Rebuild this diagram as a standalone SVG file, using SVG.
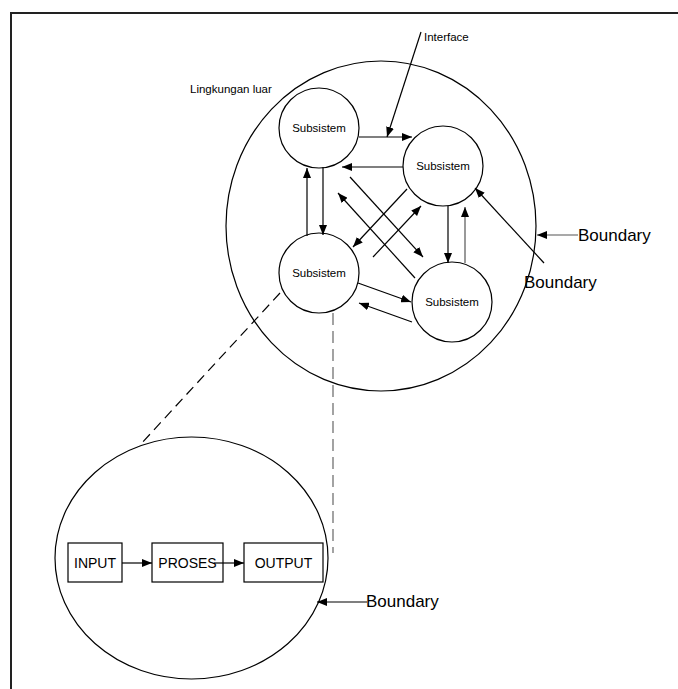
<svg xmlns="http://www.w3.org/2000/svg" width="678" height="689" viewBox="0 0 678 689">
<style>
text{font-family:"Liberation Sans",Arial,sans-serif;fill:#000}
.s{font-size:11.5px}
.b{font-size:17px}
.box{font-size:14px}
.node{fill:#fff;stroke:#000;stroke-width:1.2}
.c{stroke:#000;stroke-width:1.2;fill:none;marker-end:url(#ah)}
.g{stroke:#555}
.dash{stroke:#000;stroke-width:1.2;stroke-dasharray:10 6;fill:none}
</style>
<defs>
<marker id="ah" markerUnits="userSpaceOnUse" markerWidth="11" markerHeight="8" refX="10" refY="4" orient="auto">
<path d="M0,0 L10,4 L0,8 z" fill="#000"/>
</marker>
</defs>
<rect width="678" height="689" fill="#fff"/>
<path d="M11,689 V13 H678" fill="none" stroke="#222" stroke-width="2"/>
<g id="lingkungan">
<ellipse cx="381" cy="226" rx="155" ry="165" class="node" fill="none"/>
<text class="s" x="190" y="93">Lingkungan luar</text>
</g>
<g id="sub1"><circle cx="319" cy="128" r="40" class="node"/><text class="s" x="319" y="132" text-anchor="middle">Subsistem</text></g>
<g id="sub2"><circle cx="443" cy="166" r="40" class="node"/><text class="s" x="443" y="170" text-anchor="middle">Subsistem</text></g>
<g id="sub3"><circle cx="319" cy="273" r="40" class="node"/><text class="s" x="319" y="277" text-anchor="middle">Subsistem</text></g>
<g id="sub4"><circle cx="452" cy="302" r="40" class="node"/><text class="s" x="452" y="306" text-anchor="middle">Subsistem</text></g>
<g id="detail"><ellipse cx="191.5" cy="558" rx="136.5" ry="121" class="node" fill="none"/></g>
<g id="input"><rect x="68" y="543" width="54" height="39" class="node"/><text class="box" x="95" y="568" text-anchor="middle">INPUT</text></g>
<g id="proses"><rect x="152" y="543" width="71" height="39" class="node"/><text class="box" x="187.5" y="568" text-anchor="middle">PROSES</text></g>
<g id="output"><rect x="244" y="543" width="79" height="39" class="node"/><text class="box" x="283.5" y="568" text-anchor="middle">OUTPUT</text></g>
<g id="labels">
<text class="s" x="424" y="41">Interface</text>
<text class="b" x="578" y="241">Boundary</text>
<text class="b" x="524" y="288">Boundary</text>
<text class="b" x="366" y="607">Boundary</text>
</g>
<g id="connectors">
<line class="c" x1="359" y1="137" x2="412" y2="137"/>
<line class="c" x1="403" y1="167" x2="342" y2="167"/>
<line class="c" x1="421" y1="32" x2="387" y2="137"/>
<line class="c" x1="307" y1="236" x2="307" y2="168"/>
<line class="c" x1="323" y1="167" x2="323" y2="235"/>
<line class="c" x1="448" y1="206" x2="448" y2="263"/>
<line class="c g" x1="465" y1="263" x2="465" y2="207"/>
<line class="c" x1="358" y1="283" x2="411" y2="302"/>
<line class="c" x1="412" y1="322" x2="359" y2="303"/>
<line class="c" x1="415" y1="278" x2="338" y2="193"/>
<line class="c" x1="350" y1="177" x2="423" y2="257"/>
<line class="c" x1="407" y1="189" x2="353" y2="247"/>
<line class="c" x1="373" y1="257" x2="421" y2="206"/>
<line class="c g" x1="578" y1="235" x2="537" y2="235"/>
<line class="c" x1="544" y1="263" x2="475" y2="188"/>
<line class="c" x1="367" y1="602" x2="317" y2="602"/>
<line class="c" x1="122" y1="563" x2="152" y2="563"/>
<line class="c" x1="214" y1="563" x2="244" y2="563"/>
<line class="dash" x1="280" y1="293" x2="140" y2="445"/>
<line class="dash" x1="333" y1="313" x2="333" y2="553" style="stroke:#666;stroke-dasharray:12 6"/>
</g>
</svg>
